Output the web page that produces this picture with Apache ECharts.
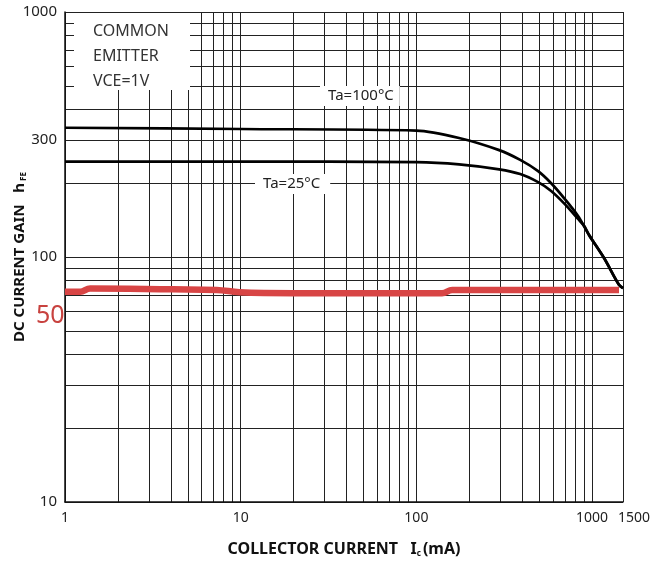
<!DOCTYPE html>
<html>
<head>
<meta charset="utf-8">
<script src="https://cdn.jsdelivr.net/npm/echarts@6/dist/echarts.min.js"></script>
<style>
  html, body { margin: 0; padding: 0; background: #fff; }
  #chart { width: 660px; height: 565px; }
</style>
</head>
<body>
<div id="chart"></div>
<script>
// collector current (mA) and DC current gain
var ic100 = [1, 10, 100, 175, 296, 390, 493, 585, 702, 832, 961, 1170, 1423, 1500];
var hfe100 = [337, 333, 328, 306, 273, 249, 224, 200, 172, 147, 123, 99, 77, 74.6];

var ic25 = [1, 10, 100, 175, 296, 390, 493, 585, 702, 832, 901, 961, 1170, 1423, 1500];
var hfe25 = [245, 245, 244, 239, 228, 218, 202, 186, 164, 143, 134, 123, 99, 77, 74.6];

// red marker line
var icRed = [1, 1.22, 1.39, 4.11, 7.3, 9.85, 20, 32, 80, 140, 160, 1423];
var hfeRed = [72.2, 72.2, 74.4, 73.8, 73.4, 71.8, 71.2, 71.2, 71.2, 71.2, 73.3, 73.3];

// grid and tick labels
var xGrid = [1, 2, 3, 4, 5, 6, 7, 8, 9, 10, 20, 30, 40, 50, 60, 70, 80, 90,
             100, 200, 300, 400, 500, 600, 700, 800, 900, 1000, 1500];
var xLabels = [1, 10, 100, 1000, 1500];
var yGrid = [10, 20, 30, 40, 50, 60, 70, 80, 90,
             100, 200, 300, 400, 500, 600, 700, 800, 900, 1000];
var yLabels = [10, 100, 300, 1000];

function pairs(xs, ys) {
    var out = [];
    for (var i = 0; i < xs.length; i++) out.push([xs[i], ys[i]]);
    return out;
}

var myChart = echarts.init(document.getElementById('chart'));
var font = 'Noto Sans';

var option = {
    animation: false,
    backgroundColor: '#fff',
    grid: { left: 65, right: 37, top: 12, bottom: 63, containLabel: false, outerBoundsMode: 'none' },
    xAxis: {
        type: 'log',
        logBase: 10,
        min: 1,
        max: 1500,
        name: '{b|COLLECTOR CURRENT   I}{s|c}{b|(mA)}',
        nameLocation: 'middle',
        nameGap: 38,
        nameMoveOverlap: false,
        nameTextStyle: {
            rich: {
                b: { fontFamily: font, fontWeight: 'bold', fontSize: 16, color: '#111' },
                s: { fontFamily: font, fontWeight: 'bold', fontSize: 8, color: '#111', padding: [10, 2, 0, 0] }
            }
        },
        axisLine: { lineStyle: { color: '#111', width: 1.5 } },
        axisTick: { show: false, customValues: xGrid },
        axisLabel: {
            customValues: xLabels,
            showMinLabel: true, showMaxLabel: true, hideOverlap: false,
            formatter: function (v) {
                var s = String(Math.round(v));
                return v >= 1500 ? '{r|' + s + '}' : s;
            },
            rich: { r: { fontFamily: font, fontSize: 14, color: '#222', padding: [0, 0, 0, 22] } },
            fontFamily: font, fontSize: 14, color: '#222', margin: 9
        },
        splitLine: { show: true, lineStyle: { color: '#222', width: 1 } }
    },
    yAxis: {
        type: 'log',
        logBase: 10,
        min: 10,
        max: 1000,
        name: '{b|DC CURRENT GAIN   h}{s|FE}',
        nameLocation: 'middle',
        nameGap: 37,
        nameMoveOverlap: false,
        nameTextStyle: {
            rich: {
                b: { fontFamily: font, fontWeight: 'bold', fontSize: 15, color: '#111' },
                s: { fontFamily: font, fontWeight: 'bold', fontSize: 8, color: '#111', padding: [8, 0, 0, 2] }
            }
        },
        axisLine: { show: true, lineStyle: { color: '#111', width: 1.5 } },
        axisTick: { show: false, customValues: yGrid },
        axisLabel: {
            customValues: yLabels,
            showMinLabel: true, showMaxLabel: true, hideOverlap: false,
            formatter: function (v) { return String(Math.round(v)); },
            fontFamily: font, fontSize: 15, color: '#222', margin: 8
        },
        splitLine: { show: true, lineStyle: { color: '#222', width: 1 } }
    },
    graphic: [
        { type: 'rect', z: 100, shape: { x: 74, y: 13, width: 116, height: 77 }, style: { fill: '#fff' } },
        {
            type: 'text', z: 101, left: 93, top: 19,
            style: {
                text: 'COMMON\nEMITTER\nVCE=1V',
                font: '16px "Noto Sans"', fill: '#333', lineHeight: 25
            }
        },
        {
            type: 'text', z: 101, left: 320, top: 86,
            style: {
                text: 'Ta=100°C', font: '15px "Noto Sans"', fill: '#222',
                backgroundColor: '#fff', padding: [2, 6, 3, 8]
            }
        },
        {
            type: 'text', z: 101, left: 255, top: 174,
            style: {
                text: 'Ta=25°C', font: '15px "Noto Sans"', fill: '#222',
                backgroundColor: '#fff', padding: [2, 10, 3, 8]
            }
        },
        {
            type: 'text', z: 101, left: 36, top: 303,
            style: { text: '50', font: '25px "Noto Sans"', fill: '#c8423f' }
        }
    ],
    series: [
        {
            name: 'Ta=100°C', type: 'line', data: pairs(ic100, hfe100),
            smooth: 0.3, showSymbol: false, z: 5,
            lineStyle: { color: '#000', width: 2.7 }
        },
        {
            name: 'Ta=25°C', type: 'line', data: pairs(ic25, hfe25),
            smooth: 0.3, showSymbol: false, z: 5,
            lineStyle: { color: '#000', width: 2.7 }
        },
        {
            name: 'red', type: 'line', data: pairs(icRed, hfeRed),
            smooth: 0.4, showSymbol: false, z: 6,
            lineStyle: { color: '#d84545', width: 6.5 }
        }
    ]
};
myChart.setOption(option);
</script>
</body>
</html>
